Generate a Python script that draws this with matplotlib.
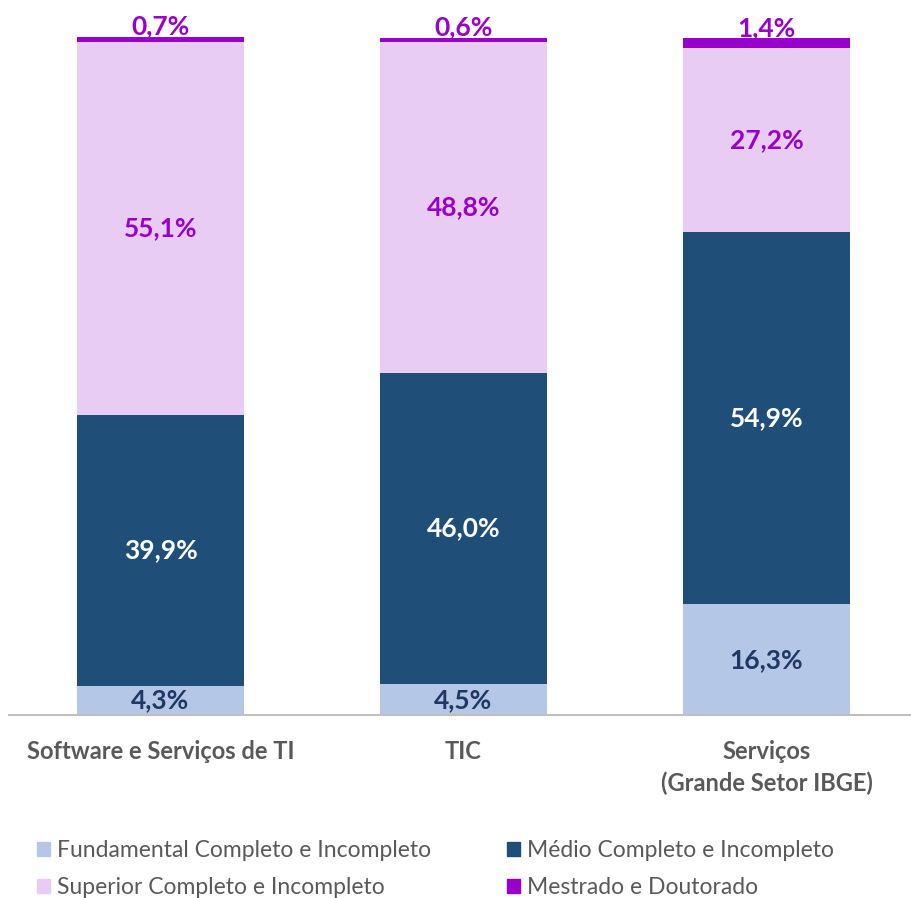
import matplotlib.pyplot as plt
from matplotlib.patches import Patch

categories = ["Software e Serviços de TI", "TIC", "Serviços\n(Grande Setor IBGE)"]
fundamental = [4.3, 4.5, 16.3]
medio = [39.9, 46.0, 54.9]
superior = [55.1, 48.8, 27.2]
mestrado = [0.7, 0.6, 1.4]

series_names = ["Fundamental Completo e Incompleto", "Médio Completo e Incompleto",
                "Superior Completo e Incompleto", "Mestrado e Doutorado"]
colors = ["#B4C7E7", "#1F4E79", "#E9CCF4", "#9900CC"]
label_colors = ["#1F3864", "white", "#9900CC", "#9900CC"]

plt.rcParams['font.family'] = ['Lato', 'DejaVu Sans']


def fmt(v):
    return f"{v:.1f}%".replace(".", ",")


def main():
    fig = plt.figure(figsize=(9.12, 8.98), dpi=100)
    ax = fig.add_axes([9 / 912, 183 / 898, 903 / 912, 678 / 898])
    x = list(range(len(categories)))
    width = 0.55
    bottom = [0.0] * len(categories)
    series = [fundamental, medio, superior, mestrado]
    for i, vals in enumerate(series):
        bars = ax.bar(x, vals, width, bottom=bottom, color=colors[i], label=series_names[i])
        for j, b in enumerate(bars):
            cx = b.get_x() + b.get_width() / 2
            if i == 3:
                ax.annotate(fmt(vals[j]), (cx, bottom[j] + vals[j]), xytext=(0, -1),
                            textcoords='offset points', ha='center', va='bottom',
                            color=label_colors[i], fontsize=19, fontweight='bold')
            else:
                ax.text(cx, bottom[j] + vals[j] / 2, fmt(vals[j]), ha='center', va='center',
                        color=label_colors[i], fontsize=19, fontweight='bold')
        bottom = [bottom[k] + vals[k] for k in range(len(vals))]

    ax.set_xlim(-0.5, 2.48)
    ax.set_ylim(0, 100)
    for s in ['top', 'right', 'left']:
        ax.spines[s].set_visible(False)
    ax.spines['bottom'].set_color('#BFBFBF')
    ax.spines['bottom'].set_linewidth(1.5)
    ax.set_yticks([])
    ax.set_xticks(x)
    ax.set_xticklabels(categories, fontsize=17, fontweight='bold', color='#595959',
                       linespacing=1.45, va='top')
    ax.tick_params(axis='x', length=0, pad=18)

    handles = [Patch(color=colors[k]) for k in [0, 2, 1, 3]]
    labels = [series_names[k] for k in [0, 2, 1, 3]]
    fig.legend(handles, labels, loc='upper left', bbox_to_anchor=(37 / 912, 1 - 840 / 898),
               ncol=2, frameon=False, fontsize=16.5, labelcolor='#595959',
               handlelength=0.57, handleheight=0.57, handletextpad=0.3,
               columnspacing=3.3, labelspacing=0.72, borderpad=0, borderaxespad=0)

    fig.savefig("out.png", dpi=100)


if __name__ == "__main__":
    main()
